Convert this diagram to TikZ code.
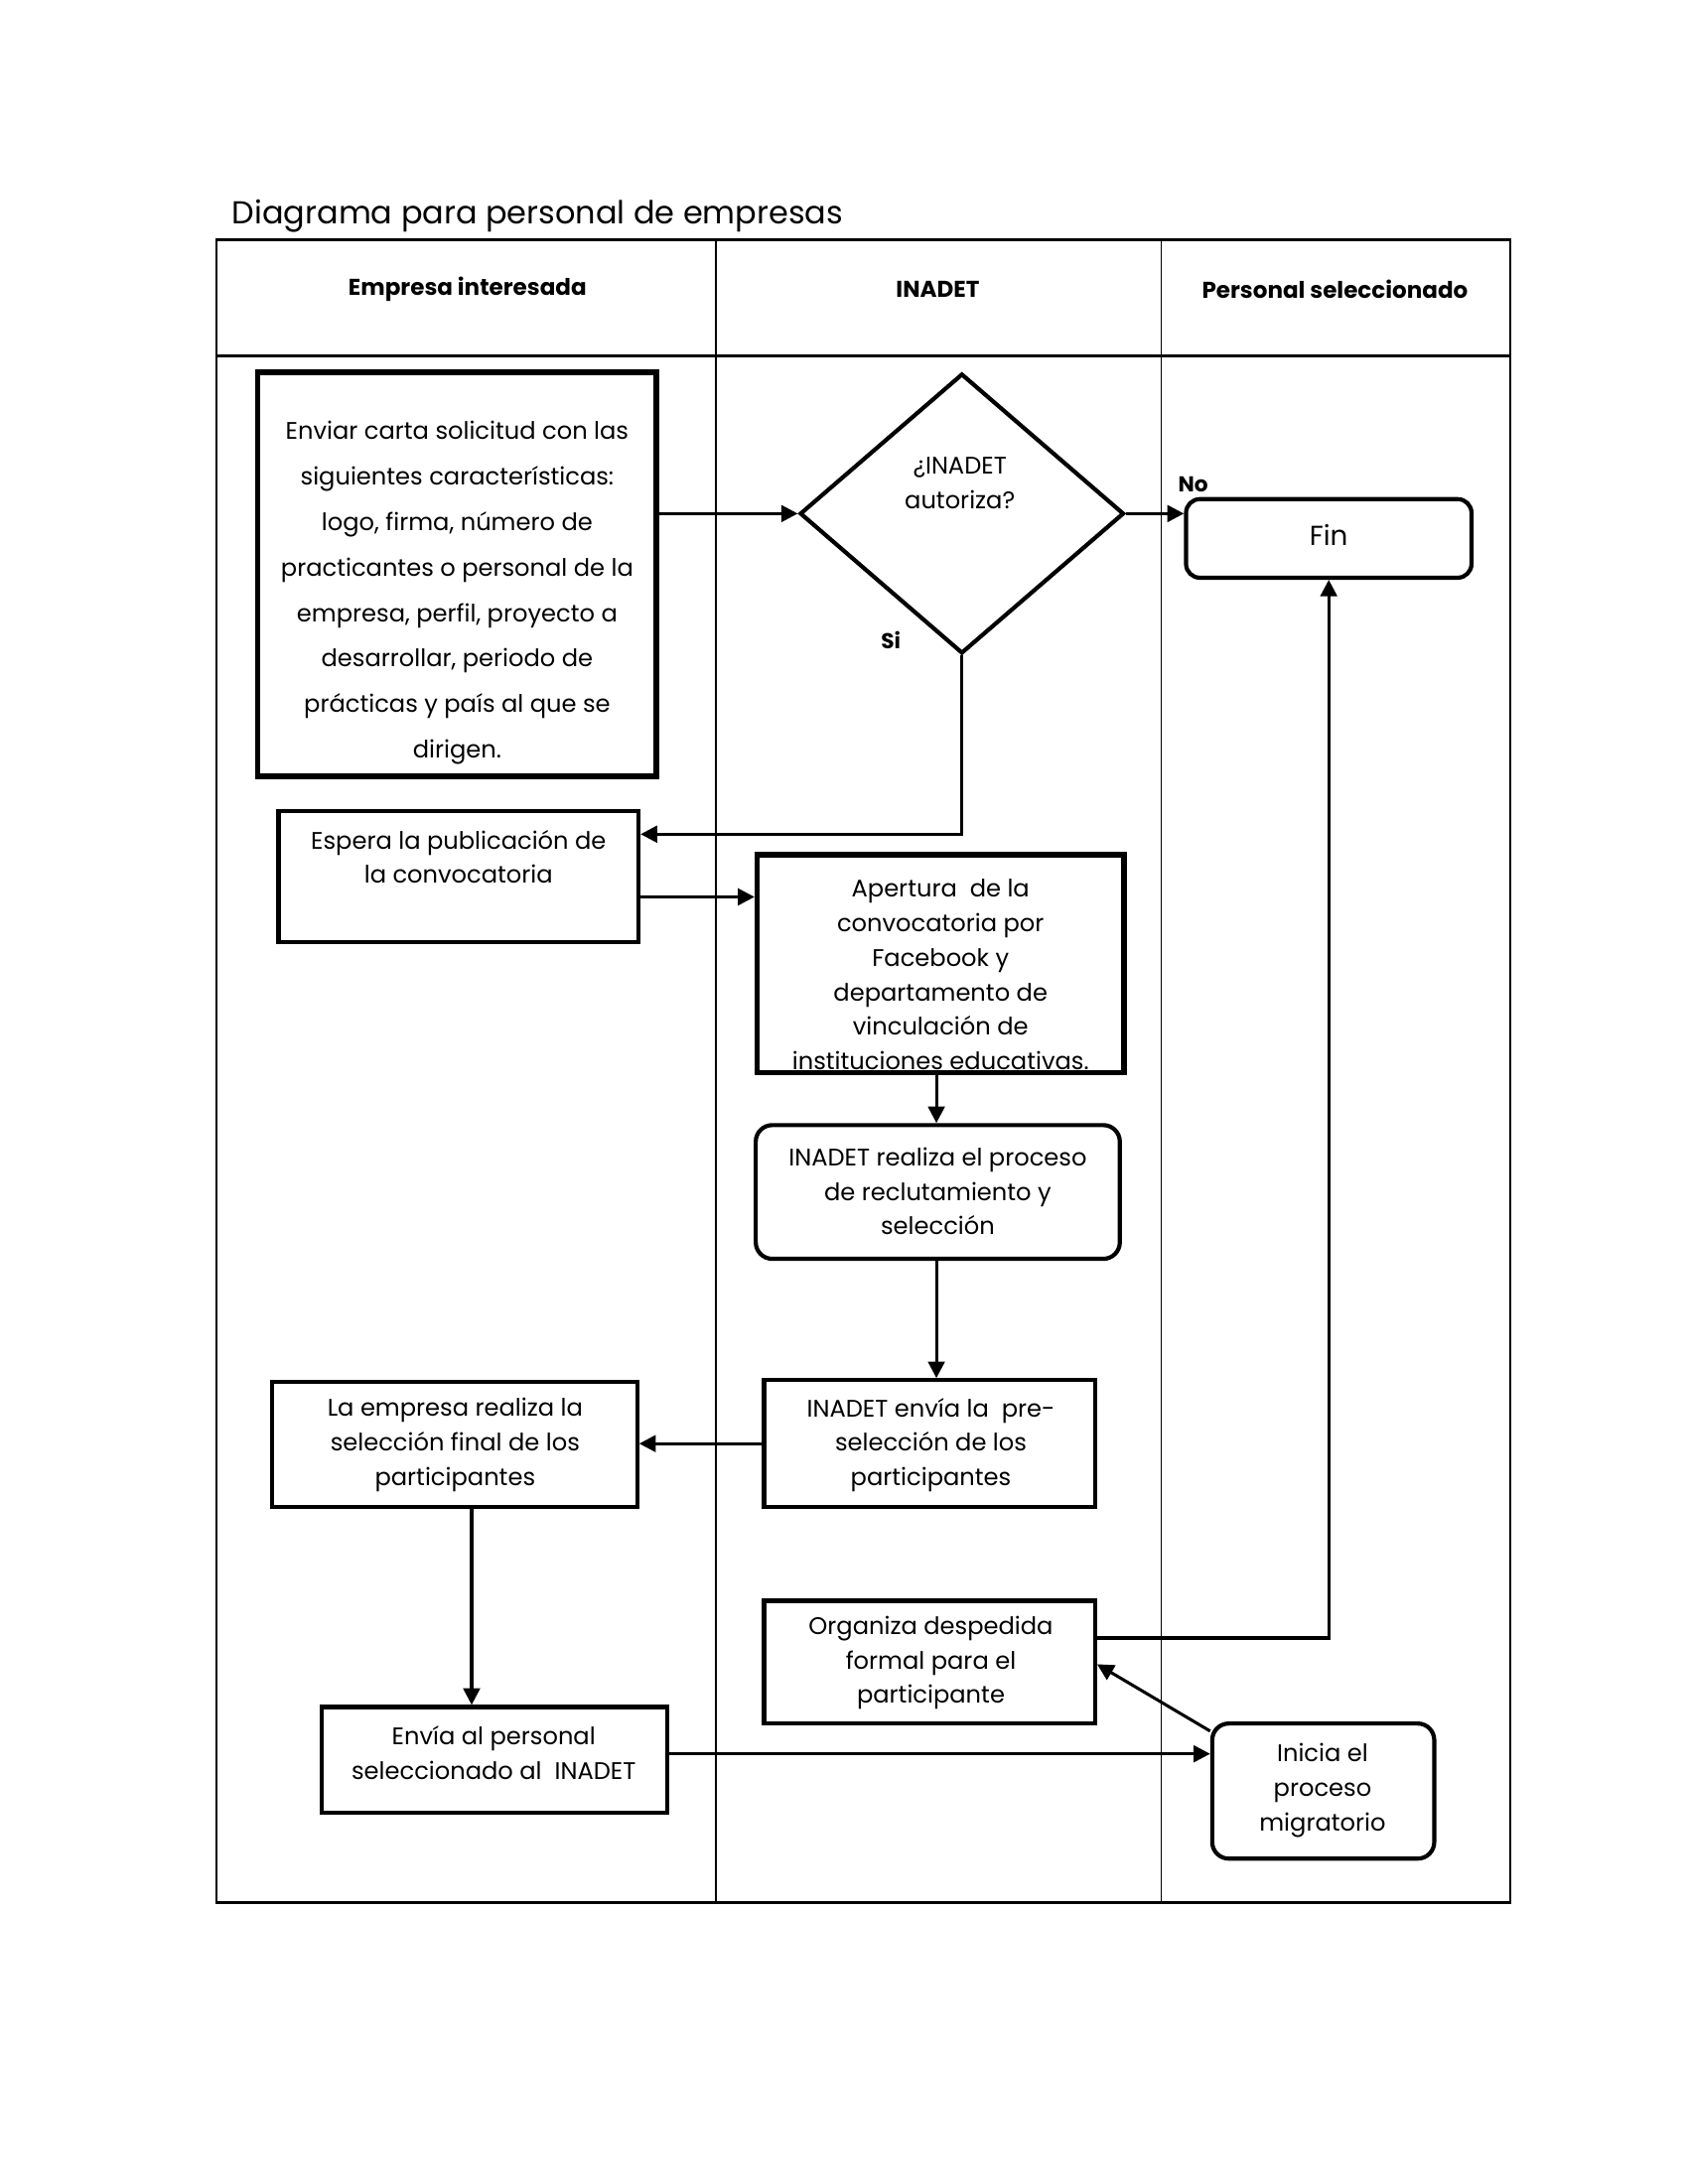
\documentclass[tikz,border=0pt]{standalone}
\usepackage{fontspec}
\setmainfont{Poppins}
\usetikzlibrary{shapes.geometric,arrows.meta,calc}
\begin{document}
\begin{tikzpicture}[x=0.5pt,y=-0.5pt,
  box/.style={draw, line width=1.5pt, rectangle, inner sep=0pt},
  thickbox/.style={box, line width=1.9pt},
  rbox/.style={box, rounded corners=5pt},
  txt/.style={align=center, font=\fontsize{8.7}{12.5}\selectfont, inner sep=0pt},
  hdr/.style={font=\fontsize{8.3}{10}\selectfont\bfseries, inner sep=0pt},
  lbl/.style={font=\fontsize{7.8}{9}\selectfont\bfseries, inner sep=0pt},
  arr/.style={-{Triangle[length=6pt,width=6pt]}, line width=1.1pt},
  frame/.style={line width=0.9pt},
  lane/.style={line width=0.6pt}]
\useasboundingbox (0,0) rectangle (1224,1584);

% title
\node[anchor=west, font=\fontsize{11.5}{14}\selectfont, inner sep=0pt] (title) at (168,157) {Diagrama para personal de empresas};

% swimlane frame
\draw[frame] (157,174) rectangle (1095,1380);
\draw[frame] (157,258) -- (1095,258);
\draw[lane] (519,174) -- (519,1380);
\draw[lane] (842,174) -- (842,1380);
\node[hdr] (h1) at (339,210) {Empresa interesada};
\node[hdr] (h2) at (680,210) {INADET};
\node[hdr] (h3) at (968,210) {Personal seleccionado};

% nodes
\node[thickbox, minimum width=144.5pt, minimum height=146.5pt] (A) at (331.5,416.5) {};
\node[txt, font=\fontsize{8.7}{16.5}\selectfont] (At) at (331.5,430) {Enviar carta solicitud con las\\siguientes características:\\logo, firma, número de\\practicantes o personal de la\\empresa, perfil, proyecto a\\desarrollar, periodo de\\prácticas y país al que se\\dirigen.};

\node[draw, diamond, line width=1.5pt, inner sep=0pt, minimum width=117.5pt, minimum height=101.5pt] (dia) at (697.5,372.5) {};
\node[txt] (diat) at (696,350.5) {¿INADET\\autoriza?};

\node[rbox, minimum width=103.5pt, minimum height=28.5pt] (fin) at (963.5,390.5) {};
\node[txt, font=\fontsize{10}{12}\selectfont] (fint) at (963.5,388) {Fin};

\node[box, minimum width=130.5pt, minimum height=47.5pt] (B) at (332.5,635.5) {};
\node[txt] (Bt) at (332.5,621.5) {Espera la publicación de\\la convocatoria};

\node[thickbox, minimum width=133pt, minimum height=79pt] (C) at (682,699) {};
\begin{scope}
\clip (C.north west) rectangle (C.south east);
\node[txt] (Ct) at (682,707) {Apertura~ de la\\convocatoria por\\Facebook y\\departamento de\\vinculación de\\instituciones educativas.};
\end{scope}

\node[rbox, rounded corners=6pt, minimum width=132pt, minimum height=48.5pt] (D) at (680,864.5) {};
\node[txt] (Dt) at (680,864) {INADET realiza el proceso\\de reclutamiento y\\selección};

\node[box, minimum width=120pt, minimum height=46pt] (E) at (674,1047) {};
\node[txt] (Et) at (675,1048) {INADET envía la~ pre-\\selección de los\\participantes};

\node[box, minimum width=132.5pt, minimum height=45.5pt] (F) at (329.5,1047.5) {};
\node[txt] (Ft) at (330,1048) {La empresa realiza la\\selección final de los\\participantes};

\node[box, minimum width=125.5pt, minimum height=38.5pt] (G) at (358.5,1276.5) {};
\node[txt] (Gt) at (358,1271.5) {Envía al personal\\seleccionado al~ INADET};

\node[box, minimum width=120pt, minimum height=44.5pt] (H) at (674,1205.5) {};
\node[txt] (Ht) at (675,1206) {Organiza despedida\\formal para el\\participante};

\node[rbox, rounded corners=6pt, minimum width=80.5pt, minimum height=49pt] (I) at (959.5,1299) {};
\node[txt] (It) at (959,1298.5) {Inicia el\\proceso\\migratorio};

% labels
\node[lbl, anchor=west] (no) at (854,351) {No};
\node[lbl] (si) at (646,464) {Si};

% connectors
\draw[arr] (A.east |- dia.west) -- (dia.west);
\draw[arr] (dia.east) -- (dia.east -| fin.west);
\coordinate (bin) at ($(B.east)+(0,-30.5)$);
\draw[arr] (dia.south) |- (bin);
\coordinate (bout) at ($(B.east)+(0,15)$);
\draw[arr] (bout) -- (bout -| C.west);
\draw[arr] (C.south -| 679,0) -- (D.north -| 679,0);
\draw[arr] (D.south -| 679,0) -- (E.north -| 679,0);
\draw[arr] (E.west) -- (E.west -| F.east);
\coordinate (fout) at ($(F.south)+(12.5,0)$);
\draw[arr] (fout) -- (fout |- G.north);
\coordinate (iin) at ($(I.west)+(0,-27)$);
\draw[arr] (G.east |- iin) -- (iin);
\draw[arr] ($(I.north west)+(0,7)$) -- ($(H.east)+(0,1.5)$);
\coordinate (hout) at ($(H.east)+(0,-17.5)$);
\draw[arr] (hout) -| (fin.south);
\end{tikzpicture}
\end{document}
